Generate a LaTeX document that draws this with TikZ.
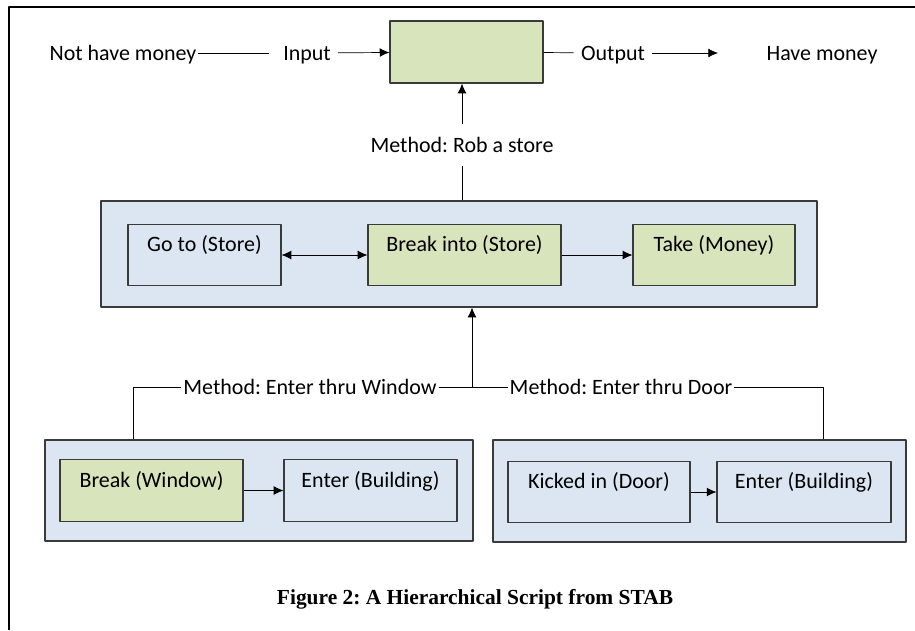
\documentclass[tikz,border=0pt]{standalone}
\usepackage{fontspec}
\setmainfont{Carlito}
\newfontfamily\capfont{Liberation Serif}
\usetikzlibrary{arrows.meta}
\definecolor{boxgreen}{HTML}{D8E4BC}
\definecolor{boxblue}{HTML}{DCE6F2}
\definecolor{edge}{HTML}{3A3A3A}
\frenchspacing

\begin{document}
\begin{tikzpicture}[x=0.02cm, y=-0.02cm, font=\fontsize{12.5}{15}\selectfont, line join=round, >={Latex[length=5.5pt,width=5pt]},
	group/.style={draw=edge, fill=boxblue, line width=0.7pt, inner sep=0pt},
	act/.style={draw=edge, line width=0.7pt, inner xsep=2pt, inner ysep=4pt, text height=11.5pt, text depth=15.5pt},
	lbl/.style={inner sep=1pt, text height=10pt, text depth=2pt}]
	\useasboundingbox (0,0) rectangle (915,630);
	\draw[line width=0.8pt] (9,630) -- (9,7) -- (915,7);
	% top row
	\node[lbl] (nomoney) at (123,53) {Not have money};
	\node[lbl, inner xsep=4pt] (input) at (307,53) {Input};
	\node[draw=edge, fill=boxgreen, line width=0.7pt, minimum width=3.06cm, minimum height=1.24cm] (proc) at (466.5,52) {};
	\node[lbl, inner xsep=4pt] (output) at (613,53) {Output};
	\node[lbl] (money) at (822,53) {Have money};
	\coordinate (outend) at (718,53);
	\draw[shorten >=4pt] (nomoney) -- (input);
	\draw[->] (input) -- (proc);
	\draw (proc) -- (output);
	\draw[->] (output) -- (outend);
	% rob a store
	\node[lbl, inner ysep=6pt] (rob) at (462,145) {Method: Rob a store};
	\node[group, minimum width=14.32cm, minimum height=2.12cm] (plan) at (459,254) {};
	\draw[->] (rob) -- (rob |- proc.south);
	\draw (plan.north -| rob) -- (rob);
	\node[act, fill=boxblue, minimum width=3.06cm] (goto) at (204.5,255) {Go to (Store)};
	\node[act, fill=boxgreen, minimum width=3.86cm] (breakin) at (464.5,255) {Break into (Store)};
	\node[act, fill=boxgreen, minimum width=3.24cm] (take) at (714,255) {Take (Money)};
	\draw[<->] (goto) -- (breakin);
	\draw[->] (breakin) -- (take);
	% two ways in
	\node[lbl] (viawin) at (310,387) {Method: Enter thru Window};
	\node[lbl] (viadoor) at (621,387) {Method: Enter thru Door};
	\coordinate (fork) at (472,387);
	\coordinate (wintop) at (133,440);
	\coordinate (doortop) at (823,440);
	\draw (viawin) -- (viadoor);
	\draw[->] (fork) -- (fork |- plan.south);
	\draw (viawin) -| (wintop);
	\draw (viadoor) -| (doortop);
	\node[group, minimum width=8.56cm, minimum height=2.02cm] (winplan) at (259,490.5) {};
	\node[group, minimum width=8.26cm, minimum height=2.04cm] (doorplan) at (699.5,491) {};
	\node[act, fill=boxgreen, minimum width=3.66cm] (breakwin) at (151.5,490.5) {Break (Window)};
	\node[act, fill=boxblue, minimum width=3.46cm] (enterwin) at (370.5,490.5) {Enter (Building)};
	\node[act, fill=boxblue, minimum width=3.64cm] (kick) at (599,492) {Kicked in (Door)};
	\node[act, fill=boxblue, minimum width=3.48cm] (enterdoor) at (804,492) {Enter (Building)};
	\draw[->] (breakwin) -- (enterwin);
	\draw[->] (kick) -- (enterdoor);
	% caption
	\node[font=\capfont\bfseries\fontsize{12.2}{14}\selectfont] (caption) at (475,599) {Figure 2: A Hierarchical Script from STAB};
\end{tikzpicture}
\end{document}
